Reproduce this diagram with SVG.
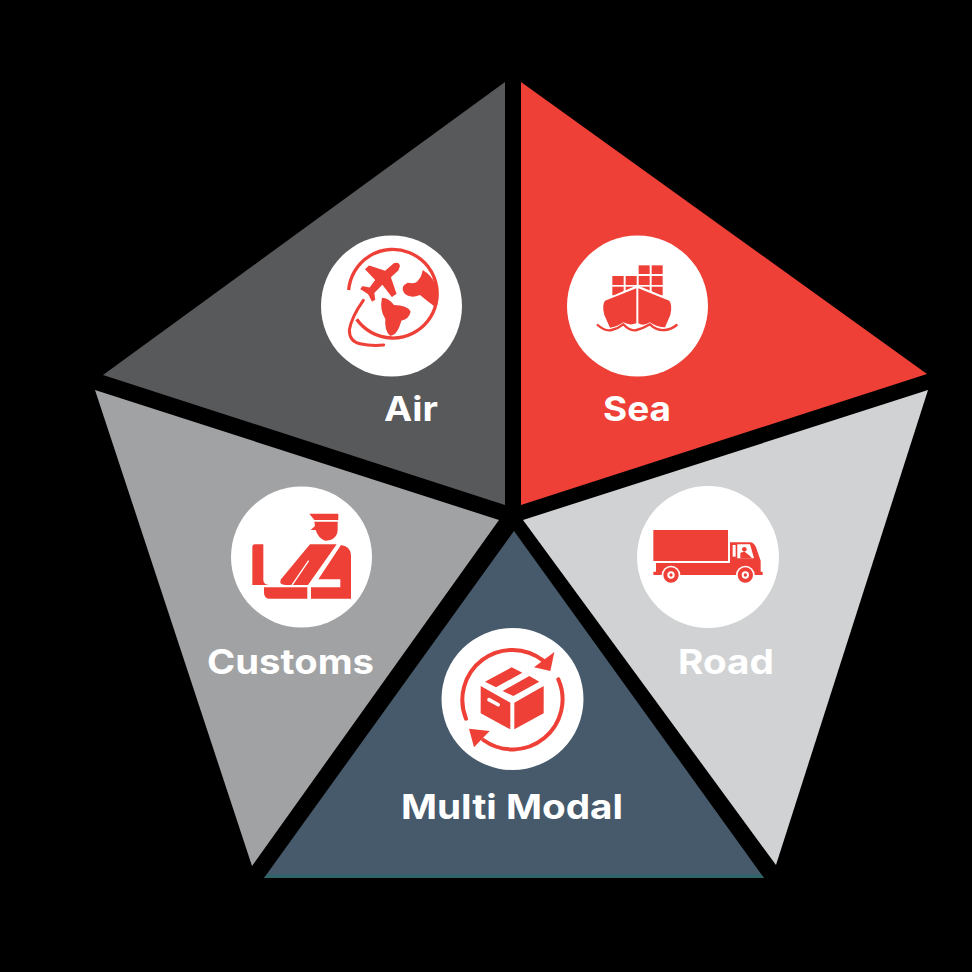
<svg xmlns="http://www.w3.org/2000/svg" width="972" height="972" viewBox="0 0 972 972">
<style>
.c{fill:#fff}
.r{fill:#ee4036}
.l{fill:none;stroke:#ee4036}
.w{fill:#fff}
text{fill:#fff;font-family:"Inter","Liberation Sans",sans-serif;font-weight:700;font-size:34px}
</style>
<rect width="972" height="972" fill="#000"/>
<g id="air">
<polygon points="505,82 103,375 505,505" fill="#58595b"/>
<circle class="c" cx="391.500" cy="306" r="70.500"/>
<g transform="translate(310 230) scale(.33333)">
<path class="l" stroke-width="10" d="M140 268A133 133 0 1 0 116 180"/>
<path class="l" stroke-width="9" stroke-linecap="round" d="M160 211Q125 260 118 300Q118 335 150 341Q185 349 221 345"/>
<path class="r" stroke="#fff" stroke-width="4" d="M272 108Q268 92 250 98L225 120L176 104L162 118L193 150L178 170L156 166L148 178L173 194L185 218L198 210L195 190L217 167L245 204L262 192L245 142L267 122Z"/>
<path class="r" d="M338 120Q388 150 382 215L372 228Q350 212 330 195Q300 207 283 190Q268 170 293 158Q320 163 325 150Q335 140 338 120Z"/>
<path class="r" d="M216 203Q235 203 252 225Q292 225 302 245Q297 267 274 272Q262 317 240 317Q223 302 226 267Q208 240 216 203Z"/>
</g>
<text x="384" y="421" textLength="54" lengthAdjust="spacingAndGlyphs">Air</text>
</g>
<g id="sea">
<polygon points="521,82 927,374 521,505" fill="#ee4036"/>
<circle class="c" cx="637.500" cy="306" r="70.500"/>
<g transform="translate(560 230) scale(.33333)">
<g class="r">
<rect x="236" y="106" width="33" height="26"/><rect x="275" y="106" width="33" height="26"/>
<rect x="157" y="138" width="34" height="27"/><rect x="197" y="138" width="33" height="27"/><rect x="236" y="138" width="33" height="27"/><rect x="275" y="138" width="33" height="27"/>
<rect x="157" y="170" width="34" height="26"/><rect x="197" y="170" width="33" height="26"/><rect x="236" y="170" width="33" height="26"/><rect x="275" y="170" width="33" height="26"/>
</g>
<path class="w" d="M232 166L128 210L150 296H315L338 210Z"/>
<path class="r" d="M229 175L135 212Q125 225 133 255L150 293Q170 292 190 277Q210 288 229 280Z"/>
<path class="r" d="M235 175L328 212Q338 225 331 255L315 292Q290 292 270 277Q250 290 235 280Z"/>
<path class="l" stroke-width="7" stroke-linecap="round" d="M113 285Q135 305 155 300Q175 295 190 283Q210 305 230 300Q250 295 270 283Q290 303 315 300Q335 298 350 285"/>
</g>
<text x="603" y="421" textLength="68" lengthAdjust="spacingAndGlyphs">Sea</text>
</g>
<g id="road">
<polygon points="523,520 928,390 776,865" fill="#d0d2d3"/>
<circle class="c" cx="708" cy="557" r="71"/>
<g transform="translate(630 490) scale(.33333)">
<rect class="r" x="70" y="120" width="224" height="93"/>
<path class="r" d="M78 219H300V157H362Q372 158 378 172L392 212V245H398V255H70V245H78Z"/>
<path class="w" d="M322 163H360L372 205H322Z"/>
<rect class="w" x="308" y="165" width="9" height="35"/>
<circle class="r" cx="343" cy="178" r="7"/>
<path class="r" d="M331 205V190Q333 185 345 186L360 198L366 205Z"/>
<circle class="w" cx="123" cy="255" r="28"/><circle class="r" cx="123" cy="255" r="23"/><circle class="w" cx="123" cy="255" r="11"/><circle class="r" cx="123" cy="255" r="5"/>
<circle class="w" cx="346" cy="255" r="28"/><circle class="r" cx="346" cy="255" r="23"/><circle class="w" cx="346" cy="255" r="11"/><circle class="r" cx="346" cy="255" r="5"/>
</g>
<text x="678" y="674" textLength="96" lengthAdjust="spacingAndGlyphs">Road</text>
</g>
<g id="customs">
<polygon points="95,390 499,520 252,866" fill="#a1a2a4"/>
<circle class="c" cx="301.500" cy="557" r="70.500"/>
<g transform="translate(225 490) scale(.33333)">
<path class="r" d="M253 71H340V90H268Z"/>
<path class="r" d="M268 95H338V120Q335 152 300 152Q280 145 272 120H257L270 108Z"/>
<path class="r" d="M90 163H115V270Q115 285 135 285H82V172Q82 163 90 163Z"/>
<path class="r" d="M117 292H247V326H135Q117 326 117 308Z"/>
<path class="r" d="M168 268L255 163H335L249 285H182Q160 285 168 268Z"/>
<path fill="none" stroke="#fff" stroke-width="4" d="M200 287L251 212"/>
<path class="r" d="M348 165Q378 170 378 195V326H258V292H346V268H280Z"/>
</g>
<text x="207" y="674" textLength="167" lengthAdjust="spacingAndGlyphs">Customs</text>
</g>
<g id="multi-modal">
<polygon points="514,531 764,878 264,878" fill="#465a6b"/>
<polygon points="267,874.500 761,874.500 764,878 264,878" fill="#2f6468"/>
<circle class="c" cx="512.500" cy="699" r="71"/>
<g transform="translate(435 630) scale(.33333)">
<path class="l" stroke-width="12" stroke-linecap="round" d="M93 266A150 150 0 0 1 325 92"/>
<path class="r" d="M358 66L346 123L297 112Z"/>
<path class="l" stroke-width="12" stroke-linecap="round" d="M370 148A150 150 0 0 1 145 330"/>
<path class="r" d="M102 296L164 303L117 352Z"/>
<path class="r" d="M150 155L230 112L262 128L183 172Z"/>
<path class="r" d="M203 183L283 138L313 155L235 198Z"/>
<path class="r" d="M137 168L226 218V298L137 250Z"/>
<path class="r" d="M238 218L326 168V250L238 298Z"/>
<rect class="w" x="155" y="211" width="42" height="11" rx="5" transform="rotate(29 176 216)"/>
</g>
<text x="401" y="819" textLength="222" lengthAdjust="spacingAndGlyphs">Multi Modal</text>
</g>
</svg>
